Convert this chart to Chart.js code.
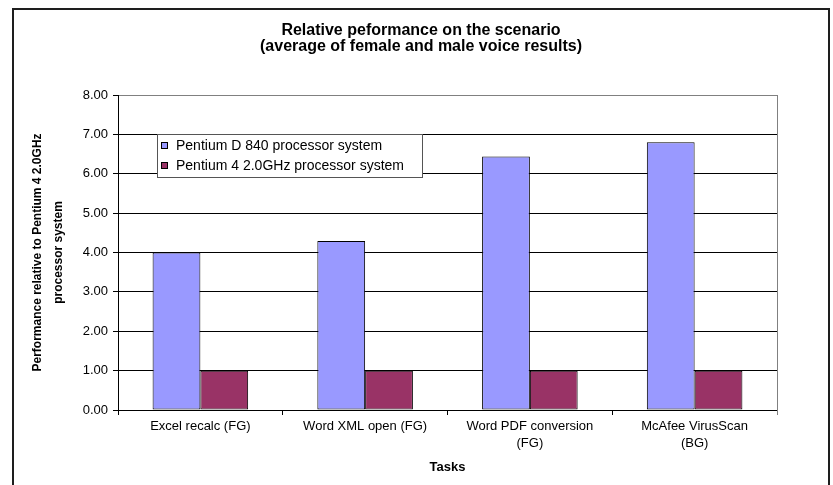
<!DOCTYPE html>
<html>
<head>
<meta charset="utf-8">
<script src="https://cdn.jsdelivr.net/npm/chart.js@4.4.1/dist/chart.umd.min.js"></script>
<style>
  html, body { margin: 0; padding: 0; background: #fff; }
  canvas { display: block; }
</style>
</head>
<body>
<canvas id="perfChart" width="833" height="485"></canvas>
<script>
const categories = ['Excel recalc (FG)', 'Word XML open (FG)', ['Word PDF conversion', '(FG)'], ['McAfee VirusScan', '(BG)']];
const pentiumD840 = [4.00, 4.29, 6.44, 6.80];
const pentium4 = [1.00, 1.00, 1.00, 1.00];
const seriesNames = ['Pentium D 840 processor system', 'Pentium 4 2.0GHz processor system'];
const titleLines = ['Relative peformance on the scenario', '(average of female and male voice results)'];
const yTitle = ['Performance relative to Pentium 4 2.0GHz', 'processor system'];
const xTitle = 'Tasks';
const yMax = 8;
const yStep = 1;

const FONT = '"Liberation Sans", Arial, sans-serif';
Chart.defaults.font.family = FONT;
Chart.defaults.color = '#000';

// title, outer frame and right edge of the plot
const frame = {
  id: 'frame',
  afterDraw(chart) {
    const ctx = chart.ctx, a = chart.chartArea;
    ctx.save();
    ctx.strokeStyle = '#808080';
    ctx.lineWidth = 1;
    ctx.beginPath();
    ctx.moveTo(Math.round(a.right) + 0.5, a.top);
    ctx.lineTo(Math.round(a.right) + 0.5, a.bottom + 5);
    ctx.stroke();

    ctx.strokeStyle = '#1e1e1e';
    ctx.lineWidth = 2;
    ctx.strokeRect(13, 9, 816, 500);

    ctx.fillStyle = '#000';
    ctx.font = 'bold 16px ' + FONT;
    ctx.textAlign = 'center';
    ctx.textBaseline = 'middle';
    titleLines.forEach((t, i) => ctx.fillText(t, 421, 31 + i * 16));
    ctx.restore();
  }
};

// legend box drawn inside the plot area
const boxLegend = {
  id: 'boxLegend',
  afterDraw(chart) {
    const ctx = chart.ctx, a = chart.chartArea;
    const x = Math.round(a.left) + 39, y = Math.round(a.top) + 39, w = 265, h = 43;
    ctx.save();
    ctx.fillStyle = '#fff';
    ctx.fillRect(x, y, w, h);
    ctx.strokeStyle = '#555';
    ctx.lineWidth = 1;
    ctx.strokeRect(x + 0.5, y + 0.5, w, h);
    ctx.font = '14px ' + FONT;
    ctx.textBaseline = 'middle';
    ctx.textAlign = 'left';
    chart.data.datasets.forEach((ds, i) => {
      const cy = y + 11 + i * 20;
      ctx.fillStyle = ds.backgroundColor;
      ctx.fillRect(x + 4.5, cy - 2.5, 6, 6);
      ctx.strokeStyle = '#000';
      ctx.strokeRect(x + 4.5, cy - 2.5, 6, 6);
      ctx.fillStyle = '#000';
      ctx.fillText(ds.label, x + 19, cy + 1);
    });
    ctx.restore();
  }
};

new Chart(document.getElementById('perfChart'), {
  type: 'bar',
  data: {
    labels: categories,
    datasets: [{
      label: seriesNames[0],
      data: pentiumD840,
      backgroundColor: '#9999FF',
      borderColor: '#000',
      borderWidth: 1,
      borderSkipped: false
    }, {
      label: seriesNames[1],
      data: pentium4,
      backgroundColor: '#993366',
      borderColor: '#000',
      borderWidth: 1,
      borderSkipped: false
    }]
  },
  options: {
    responsive: false,
    animation: false,
    layout: { padding: { top: 95, right: 56, left: 0, bottom: 0 } },
    datasets: { bar: { categoryPercentage: 0.58, barPercentage: 1 } },
    plugins: {
      legend: { display: false },
      title: { display: false },
      tooltip: { enabled: false }
    },
    scales: {
      x: {
        grid: { drawOnChartArea: false, tickLength: 5, color: '#000', offset: true },
        border: { color: '#000' },
        ticks: { padding: 3, color: '#000', font: { size: 13, lineHeight: 1.3 }, maxRotation: 0, autoSkip: false },
        title: { display: true, text: xTitle, color: '#000', font: { size: 13, weight: 'bold', lineHeight: 1.2 }, padding: { top: 0, bottom: 10 } },
        afterFit: s => { s.height = 75; }
      },
      y: {
        min: 0,
        max: yMax,
        ticks: { stepSize: yStep, padding: 5, color: '#000', font: { size: 13 }, callback: v => v.toFixed(2) },
        grid: {
          color: c => (c.tick && c.tick.value === yMax) ? '#808080' : '#000',
          tickColor: '#000',
          tickLength: 5
        },
        border: { color: '#000' },
        title: { display: true, text: yTitle, color: '#000', font: { size: 12, weight: 'bold', lineHeight: 1.75 }, padding: { top: 27.5, bottom: 0 } },
        afterFit: s => { s.width = 118; }
      }
    }
  },
  plugins: [frame, boxLegend]
});
</script>
</body>
</html>
